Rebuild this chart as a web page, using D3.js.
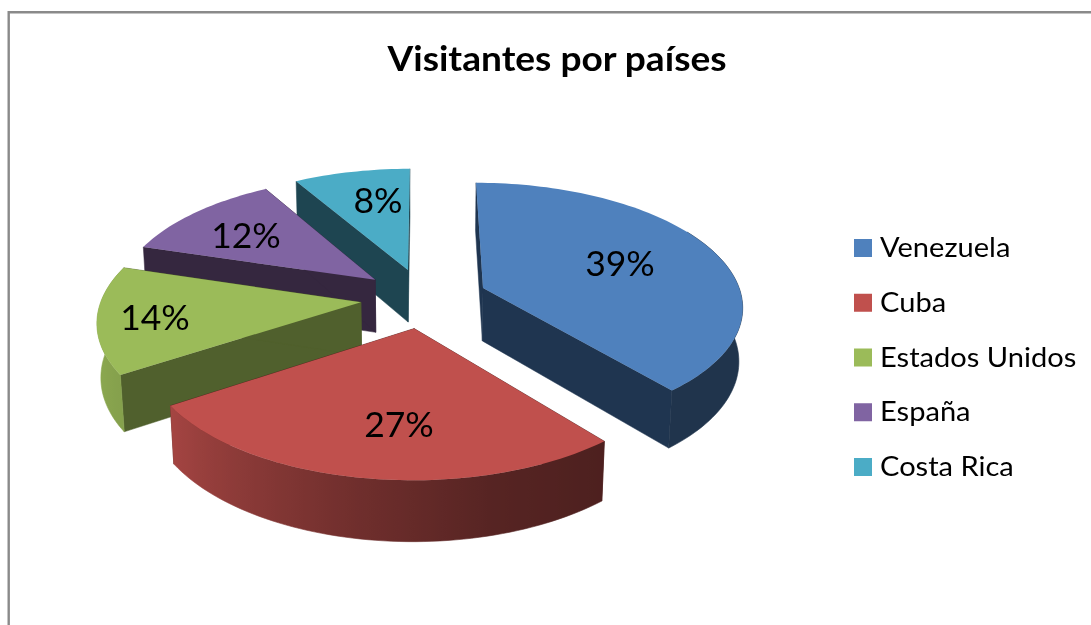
<!DOCTYPE html>
<html>
<head>
<meta charset="utf-8">
<script src="https://cdn.jsdelivr.net/npm/d3@7"></script>
<style>
  html, body { margin: 0; padding: 0; background: #fff; overflow: hidden; }
  svg { display: block; filter: blur(0.5px); }
  text { font-family: Lato, "Open Sans", sans-serif; fill: #000; }
</style>
</head>
<body>
<svg id="chart" width="1091" height="625"></svg>
<script>
const title = 'Visitantes por países';
const countries = ['Venezuela', 'Cuba', 'Estados Unidos', 'España', 'Costa Rica'];
const shares = [39, 26.8, 13.9, 11.9, 8.4];
const colors = ['#4F81BD', '#C0504D', '#9BBB59', '#8064A2', '#4BACC6'];
const wallColors = ['#1F3550', '#4D1E1C', '#50602D', '#35273F', '#1E4551'];

const w = 1091;
const h = 625;
const svg = d3.select('#chart');
const defs = svg.append('defs');

// tilted plane with perspective, values tuned by eye against the picture
const cx = 424, cy = 298;
const R = 259, Rk = 122, depth = 54;
const p = 0.1356, q = 0.012;
const explode = 0.245;

const project = (x, y, z) => {
  const d = 1 - p * y + q * z;
  return [cx + R * x / d, cy + (Rk * y + depth * z) / d];
};

const line = d3.line();
const deg = Math.PI / 180;

// rim gets darker toward the right hand side
const rimShade = d3.scaleLinear()
  .domain([90, 140, 165, 190, 237, 270])
  .range([0.4, 0.4, 0.45, 0.58, 0.86, 0.94])
  .clamp(true);

const pie = d3.pie().sort(null).startAngle(0).endAngle(2 * Math.PI);
const slices = pie(shares);

// back to front
const drawOrder = [4, 3, 2, 0, 1];

drawOrder.forEach(i => {
  const s = slices[i];
  const mid = (s.startAngle + s.endAngle) / 2;
  const ox = explode * Math.sin(mid);
  const oy = -explode * Math.cos(mid);
  const g = svg.append('g').attr('class', 'slice');

  const pt = (a, r, z) => project(ox + r * Math.sin(a), oy - r * Math.cos(a), z);
  const arcSteps = (a0, a1) => d3.range(a0, a1, 1.5 * deg).concat([a1]);

  // inner walls
  [s.startAngle, s.endAngle].forEach(a => {
    g.append('path')
      .attr('d', line([pt(a, 0, 0), pt(a, 1, 0), pt(a, 1, 1), pt(a, 0, 1)]) + 'Z')
      .attr('fill', wallColors[i])
      .attr('stroke', wallColors[i])
      .attr('stroke-width', 0.5);
  });

  // rim, slices that sit fully at the back have none, the top face hides the rest
  if (s.startAngle < 270 * deg) {
    const rim = arcSteps(Math.max(s.startAngle, 60 * deg), Math.min(s.endAngle, 290 * deg));
    // stops only on the front half so x keeps going one way
    const front = rim.filter(a => a >= 90 * deg && a <= 270 * deg);
    const xs = front.map(a => pt(a, 1, 0)[0]);
    const xMin = d3.min(xs);
    const xMax = d3.max(xs);
    const grad = defs.append('linearGradient')
      .attr('id', 'rim' + i)
      .attr('gradientUnits', 'userSpaceOnUse')
      .attr('x1', xMin)
      .attr('x2', xMax)
      .attr('y1', 0)
      .attr('y2', 0);
    d3.range(front.length)
      .sort((m, n) => xs[m] - xs[n])
      .forEach(k => {
        grad.append('stop')
          .attr('offset', (xs[k] - xMin) / (xMax - xMin))
          .attr('stop-color', d3.interpolateRgb('#000', colors[i])(rimShade(front[k] / deg)));
      });
    const outline = rim.map(a => pt(a, 1, 0))
      .concat(rim.slice().reverse().map(a => pt(a, 1, 1)));
    g.append('path')
      .attr('d', line(outline) + 'Z')
      .attr('fill', 'url(#rim' + i + ')')
      .attr('stroke', 'url(#rim' + i + ')')
      .attr('stroke-width', 0.6);
  }

  // top face
  const top = [pt(0, 0, 0)].concat(arcSteps(s.startAngle, s.endAngle).map(a => pt(a, 1, 0)));
  g.append('path')
    .attr('d', line(top) + 'Z')
    .attr('fill', colors[i]);
});

// data labels
const labelPos = [[620, 276], [399, 437], [155, 330], [246, 248], [378, 213]];
svg.append('g').selectAll('text')
  .data(shares)
  .enter()
  .append('text')
  .attr('x', (d, i) => labelPos[i][0])
  .attr('y', (d, i) => labelPos[i][1])
  .attr('text-anchor', 'middle')
  .style('font-size', '35.5px')
  .text(d => d3.format('.0f')(d) + '%');

// title, Lato runs a bit narrow here so stretch it
svg.append('text')
  .attr('transform', 'translate(557,71) scale(1.06,1)')
  .attr('text-anchor', 'middle')
  .style('font-size', '35px')
  .style('font-weight', 'bold')
  .text(title);

// legend
const legendY = d3.scalePoint().domain(countries).range([248, 467]);
const legendColor = d3.scaleOrdinal().domain(countries).range(colors);
const legend = svg.append('g').selectAll('g')
  .data(countries)
  .enter()
  .append('g')
  .attr('transform', d => 'translate(854,' + legendY(d) + ')');

legend.append('rect')
  .attr('x', 0)
  .attr('y', -9)
  .attr('width', 18)
  .attr('height', 18)
  .attr('fill', d => legendColor(d));

legend.append('text')
  .attr('transform', 'translate(26,9) scale(1.077,1)')
  .style('font-size', '27px')
  .text(d => d);

// chart frame, runs off the right and bottom of the shot
svg.append('path')
  .attr('d', line([[w + 2, 12.2], [8.7, 12.2], [8.7, h + 2]]))
  .attr('fill', 'none')
  .attr('stroke', '#8a8a8a')
  .attr('stroke-width', 2.4);
</script>
</body>
</html>
